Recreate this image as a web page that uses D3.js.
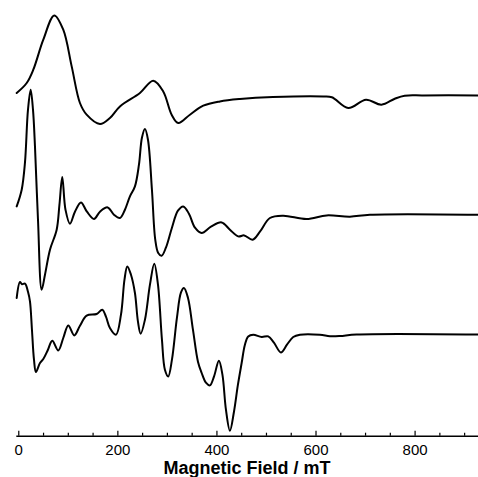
<!DOCTYPE html>
<html>
<head>
<meta charset="utf-8">
<script src="https://cdn.jsdelivr.net/npm/d3@7"></script>
<style>
  html, body { margin: 0; padding: 0; background: #fff; }
  svg { display: block; }
  text { font-family: "Liberation Sans", Arial, Helvetica, sans-serif; fill: #000; }
</style>
</head>
<body>
<svg id="chart" width="478" height="477"></svg>
<script>
// EPR spectra: field in mT, derivative intensity in arbitrary units (0 = flat baseline)
const fieldTop = [-3.2, 17, 30.3, 50.5, 72.7, 90.8, 107.8, 124.5, 138, 164.9, 185, 205.2, 245.6, 272.4, 292.6, 309.6, 322.9, 346.5, 373.4, 407, 447.4, 514, 615.5, 633, 666, 702, 733, 760, 780, 817, 928];
const intensityTop = [2.4, 12.4, 25.7, 55.7, 80, 65.7, 29, -7.6, -19.3, -28.6, -22.6, -11, 2.4, 14.7, 4, -19.3, -27.6, -19.3, -10.3, -6, -3.6, -1.6, -1, -1.8, -12.6, -4.3, -9.3, -3.3, -0.3, 0, 0];

const fieldMid = [-3.2, 6.9, 13.5, 19.6, 25, 29.7, 33.7, 39.8, 47.2, 53.9, 64, 77.5, 83.1, 88.8, 95.3, 104.3, 114.4, 126.5, 138.6, 152.8, 164.9, 180.4, 193.1, 205.2, 215.3, 225.4, 235.5, 243.6, 249.6, 255.7, 261.8, 269.8, 276.5, 282.5, 289.4, 298, 310.2, 322.3, 333, 344.5, 356.7, 370.2, 389, 410.4, 427.2, 443.9, 456, 473, 487.8, 508, 534.8, 582, 622.4, 669.4, 709.8, 928];
const intensityMid = [8.3, 25, 52, 105, 125, 105, 68.3, -5, -75, -60, -35, -15, 10, 37.7, 5, -9, 3, 12.3, 3, -4.3, 3, 7.3, 0, -3.3, 5, 18.3, 28.3, 50, 77, 85.7, 75, 25, -25, -38.3, -41, -33, -13, 4, 8.3, 1, -13, -18.3, -12, -7.7, -15, -21.7, -20.7, -25, -17, -3.3, -1, -4.3, -0.7, -2, 0, 0];

const fieldBottom = [-3.2, 3.4, 7.5, 13.5, 19.6, 23.6, 27.6, 31.7, 35.7, 43.8, 50.5, 59.9, 68.6, 80.7, 90.8, 100.9, 113, 124.5, 138, 158.2, 169.5, 177, 185, 197.2, 207.3, 214.4, 220, 227.5, 235.5, 241.6, 247, 255.7, 265.8, 274.5, 282, 290, 296, 302.7, 310.2, 320.3, 328.3, 334.4, 342.5, 352.6, 362.7, 370.2, 378.8, 386.9, 395, 405, 412.1, 419.2, 427.2, 435.4, 443.4, 450.9, 457.5, 464.2, 474.3, 491.3, 504.6, 516.1, 530.2, 542.4, 555, 568.5, 608.9, 629.1, 649.3, 683, 928];
const intensityBottom = [36.4, 52.4, 50.2, 50.7, 42.7, 33, 4.7, -25.3, -37.6, -28.6, -24.6, -15.3, -6.3, -16, -3.6, 9, -1, 8.7, 18.7, 20.4, 24.7, 17.7, 6.4, -0.3, 19.7, 54.7, 68, 59.7, 41.4, 12.7, 0.7, 14.7, 49.7, 70.7, 49.7, -5.3, -35.3, -42, -25.3, 16.7, 41.7, 46.4, 36.7, 4.7, -27.3, -38.6, -48.3, -51, -42.3, -26.3, -40.3, -75.3, -96.3, -77.3, -50.3, -28.6, -10.3, -2, -0.3, -2.6, -2, -8.3, -18, -10.3, -2.6, -0.3, -0.3, -1.8, -1.6, 0, 0];

const majorTicks = [0, 200, 400, 600, 800];
const minorTicks = [50, 100, 150, 250, 300, 350, 450, 500, 550, 650, 700, 750, 850, 900];
const axisTitle = "Magnetic Field / mT";

// vertical stacking of the three traces (in intensity units above the axis)
const traces = [
  { field: fieldTop, intensity: intensityTop, offset: 340.3 },
  { field: fieldMid, intensity: intensityMid, offset: 221 },
  { field: fieldBottom, intensity: intensityBottom, offset: 101.3 }
];

const svg = d3.select("#chart");
const axisY = 435.7;

const x = d3.scaleLinear().domain([-5, 928]).range([15.8, 478]);
const y = d3.scaleLinear().domain([0, 435.7]).range([axisY, 0]);

const line = d3.line()
  .x(d => x(d[0]))
  .y(d => y(d[1]))
  .curve(d3.curveCatmullRom.alpha(0.5));

traces.forEach(t => {
  const pts = t.field.map((f, i) => [f, t.intensity[i] + t.offset]);
  svg.append("path")
    .attr("d", line(pts))
    .attr("fill", "none")
    .attr("stroke", "#000")
    .attr("stroke-width", 2)
    .attr("stroke-linejoin", "round")
    .attr("stroke-linecap", "round");
});

// minor ticks (no labels)
svg.append("g")
  .attr("transform", `translate(0,${axisY})`)
  .call(d3.axisBottom(x).tickValues(minorTicks).tickSize(-3).tickSizeOuter(0).tickFormat(""))
  .call(g => g.select(".domain").remove())
  .call(g => g.selectAll("line").attr("stroke", "#000").attr("stroke-width", 1.2));

// major ticks with labels, and the axis line
const ax = svg.append("g")
  .attr("transform", `translate(0,${axisY})`)
  .call(d3.axisBottom(x).tickValues(majorTicks).tickSize(-5).tickSizeOuter(0).tickPadding(8.5).tickFormat(d3.format("d")));
ax.select(".domain").attr("stroke", "#000").attr("stroke-width", 1.5);
ax.selectAll(".tick line").attr("stroke", "#000").attr("stroke-width", 1.2);
ax.selectAll(".tick text")
  .attr("font-family", "'Liberation Sans', Arial, sans-serif")
  .attr("font-size", 15)
  .attr("fill", "#000");

svg.append("text")
  .attr("x", 247)
  .attr("y", 474)
  .attr("text-anchor", "middle")
  .attr("font-size", 18)
  .attr("font-weight", "bold")
  .text(axisTitle);
</script>
</body>
</html>
